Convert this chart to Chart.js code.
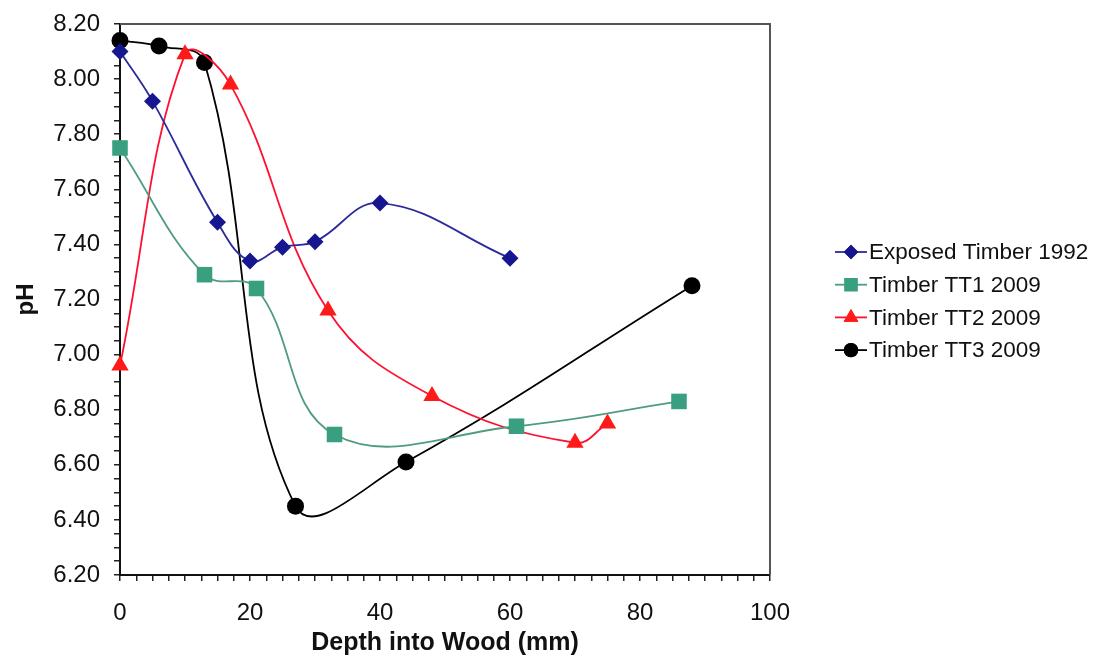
<!DOCTYPE html>
<html>
<head>
<meta charset="utf-8">
<script src="https://cdn.jsdelivr.net/npm/chart.js@4/dist/chart.umd.min.js"></script>
<style>
html,body{margin:0;padding:0;background:#fff;}
#wrap{width:1095px;height:659px;position:relative;}
</style>
</head>
<body>
<div id="wrap"><canvas id="c" width="1095" height="659"></canvas></div>
<script>
// ---- Data ----
const seriesNames = ["Exposed Timber 1992", "Timber TT1 2009", "Timber TT2 2009", "Timber TT3 2009"];
const exposedDepth = [0, 5, 15, 20, 25, 30, 40, 60];
const exposedPH    = [8.10, 7.92, 7.48, 7.34, 7.39, 7.41, 7.55, 7.35];
const tt1Depth = [0, 13, 21, 33, 61, 86];
const tt1PH    = [7.75, 7.29, 7.24, 6.71, 6.74, 6.83];
const tt2Depth = [0, 10, 17, 32, 48, 70, 75];
const tt2PH    = [6.96, 8.09, 7.98, 7.16, 6.85, 6.68, 6.75];
const tt3Depth = [0, 6, 13, 27, 44, 88];
const tt3PH    = [8.14, 8.12, 8.06, 6.45, 6.61, 7.25];
const xTickLabels = [0, 20, 40, 60, 80, 100];
const yTickLabels = ["6.20","6.40","6.60","6.80","7.00","7.20","7.40","7.60","7.80","8.00","8.20"];

const toPts = (xs, ys) => xs.map((x, i) => ({x: x, y: ys[i]}));

const styles = [
  {line: '#2b2b9c', fill: '#16168f', point: 'rectRot', r: 8.5},
  {line: '#4f9c80', fill: '#3a9f80', point: 'rect', r: 11},
  {line: '#ff1030', fill: '#ff1a1a', point: 'triangle', r: 10},
  {line: '#000000', fill: '#000000', point: 'circle', r: 8.5}
];
const dataSets = [toPts(exposedDepth, exposedPH), toPts(tt1Depth, tt1PH), toPts(tt2Depth, tt2PH), toPts(tt3Depth, tt3PH)];

const datasets = dataSets.map((d, i) => ({
  label: seriesNames[i],
  data: d,
  showLine: true,
  borderColor: styles[i].line,
  borderWidth: 1.8,
  backgroundColor: styles[i].fill,
  pointBackgroundColor: styles[i].fill,
  pointBorderColor: styles[i].fill,
  pointBorderWidth: 0,
  pointStyle: styles[i].point,
  pointRadius: styles[i].r,
  pointHoverRadius: styles[i].r,
  tension: 0.4,
  cubicInterpolationMode: 'default',
  clip: false
}));

const FONT = '"Liberation Sans", Arial, sans-serif';

const boxPlugin = {
  id: 'boxPlugin',
  beforeDatasetsDraw(chart) {
    const {ctx, chartArea: a} = chart;
    ctx.save();
    ctx.strokeStyle = '#555';
    ctx.lineWidth = 2;
    ctx.beginPath();
    ctx.moveTo(a.left, a.top);
    ctx.lineTo(a.right, a.top);
    ctx.lineTo(a.right, a.bottom);
    ctx.stroke();
    ctx.restore();
  },
  afterDraw(chart) {
    const ctx = chart.ctx;
    ctx.save();
    const x0 = 835, y0 = 252, dy = 32.7;
    ctx.font = '22.5px ' + FONT;
    ctx.textBaseline = 'middle';
    ctx.textAlign = 'left';
    seriesNames.forEach((name, i) => {
      const y = y0 + i * dy;
      const s = styles[i];
      ctx.strokeStyle = s.line;
      ctx.lineWidth = 1.8;
      ctx.beginPath();
      ctx.moveTo(x0, y);
      ctx.lineTo(x0 + 32, y);
      ctx.stroke();
      ctx.fillStyle = s.fill;
      Chart.helpers.drawPoint(ctx, {pointStyle: s.point, radius: s.r * 0.85, rotation: 0, borderWidth: 0}, x0 + 16, y);
      ctx.fill();
      ctx.fillStyle = '#111';
      ctx.fillText(name, x0 + 34, y + 1);
    });
    ctx.restore();
  }
};

new Chart(document.getElementById('c'), {
  type: 'scatter',
  data: {datasets},
  plugins: [boxPlugin],
  options: {
    responsive: false,
    animation: false,
    devicePixelRatio: 1,
    layout: {padding: {top: 24, right: 325, left: 0, bottom: 0}},
    plugins: {legend: {display: false}, tooltip: {enabled: false}},
    scales: {
      x: {
        type: 'linear',
        min: 0, max: 100,
        afterFit(s) { s.height = 84; s.paddingLeft = 0; s.paddingRight = 0; },
        afterBuildTicks(s) {
          const t = [];
          for (let v = 0; v <= 100.001; v += 2.5) t.push({value: Math.round(v * 10) / 10});
          s.ticks = t;
        },
        ticks: {
          autoSkip: false, maxRotation: 0, minRotation: 0, padding: 18,
          color: '#111',
          font: {family: FONT, size: 24},
          callback(v) { return xTickLabels.includes(v) ? String(v) : ''; }
        },
        grid: {drawOnChartArea: false, drawTicks: true, tickLength: 6, color: '#222', lineWidth: 1.5},
        border: {display: true, color: '#111', width: 2},
        title: {display: true, text: 'Depth into Wood (mm)', color: '#111',
          font: {family: FONT, size: 25, weight: 'bold'},
          padding: {top: 0, bottom: 1}}
      },
      y: {
        type: 'linear',
        min: 6.2, max: 8.2,
        afterFit(s) { s.width = 120; s.paddingTop = 0; s.paddingBottom = 0; },
        afterBuildTicks(s) {
          const t = [];
          for (let k = 0; k <= 40; k++) t.push({value: Math.round((6.2 + k * 0.05) * 100) / 100});
          s.ticks = t;
        },
        ticks: {
          autoSkip: false, padding: 14,
          color: '#111',
          font: {family: FONT, size: 24},
          callback(v) {
            const lbl = v.toFixed(2);
            return yTickLabels.includes(lbl) ? lbl : '';
          }
        },
        grid: {drawOnChartArea: false, drawTicks: true, tickLength: 6, color: '#222', lineWidth: 1.5},
        border: {display: true, color: '#111', width: 2},
        title: {display: true, text: 'pH', color: '#111',
          font: {family: FONT, size: 24, weight: 'bold'},
          padding: {top: 12, bottom: 0}}
      }
    }
  }
});
</script>
</body>
</html>
